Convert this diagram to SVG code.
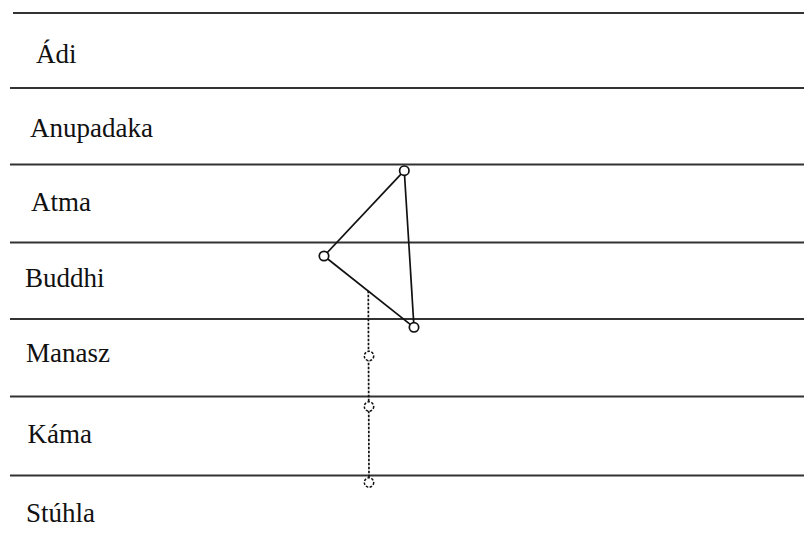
<svg xmlns="http://www.w3.org/2000/svg" width="804" height="545" viewBox="0 0 804 545">
<style>
.lvl{stroke:#333;stroke-width:1.8;fill:none}
.lbl{font-family:"Liberation Serif","Times New Roman",serif;font-size:27px;fill:#111}
.edge{stroke:#111;stroke-width:1.7;fill:none}
.dot{stroke:#111;stroke-width:1.7;stroke-dasharray:2.5 1.5;fill:none}
.node{stroke:#111;stroke-width:1.7;fill:#fff}
.dnode{stroke:#111;stroke-width:1.5;stroke-dasharray:2.5 1.5;fill:#fff}
</style>
<rect width="804" height="545" fill="#fff"/>
<g id="levels">
<line class="lvl" x1="13" y1="13" x2="804" y2="13"/>
<line class="lvl" x1="10" y1="88" x2="804" y2="88"/>
<line class="lvl" x1="10" y1="164.5" x2="804" y2="164.5"/>
<line class="lvl" x1="10" y1="242.5" x2="804" y2="242.5"/>
<line class="lvl" x1="10" y1="319" x2="804" y2="319"/>
<line class="lvl" x1="10" y1="396.5" x2="804" y2="396.5"/>
<line class="lvl" x1="10" y1="475.5" x2="804" y2="475.5"/>
</g>
<g id="labels">
<text class="lbl" x="36" y="63">Ádi</text>
<text class="lbl" x="30" y="137">Anupadaka</text>
<text class="lbl" x="31" y="211">Atma</text>
<text class="lbl" x="25" y="286.5">Buddhi</text>
<text class="lbl" x="26" y="361.5">Manasz</text>
<text class="lbl" x="27.5" y="443">Káma</text>
<text class="lbl" x="26" y="521.5">Stúhla</text>
</g>
<g id="connectors">
<line class="edge" x1="404.3" y1="170.7" x2="324" y2="256"/>
<line class="edge" x1="404.3" y1="170.7" x2="414" y2="327.3"/>
<line class="edge" x1="324" y1="256" x2="414" y2="327.3"/>
<line class="dot" x1="368.3" y1="290.7" x2="369" y2="482"/>
</g>
<g id="node-top"><circle class="node" cx="404.3" cy="170.7" r="4.7"/></g>
<g id="node-left"><circle class="node" cx="324" cy="256" r="4.7"/></g>
<g id="node-bottom"><circle class="node" cx="414" cy="327.3" r="4.7"/></g>
<g id="node-manasz"><circle class="dnode" cx="369" cy="356" r="4.7"/></g>
<g id="node-kama"><circle class="dnode" cx="369" cy="406.5" r="4.7"/></g>
<g id="node-stuhla"><circle class="dnode" cx="369" cy="482.5" r="4.7"/></g>
</svg>
